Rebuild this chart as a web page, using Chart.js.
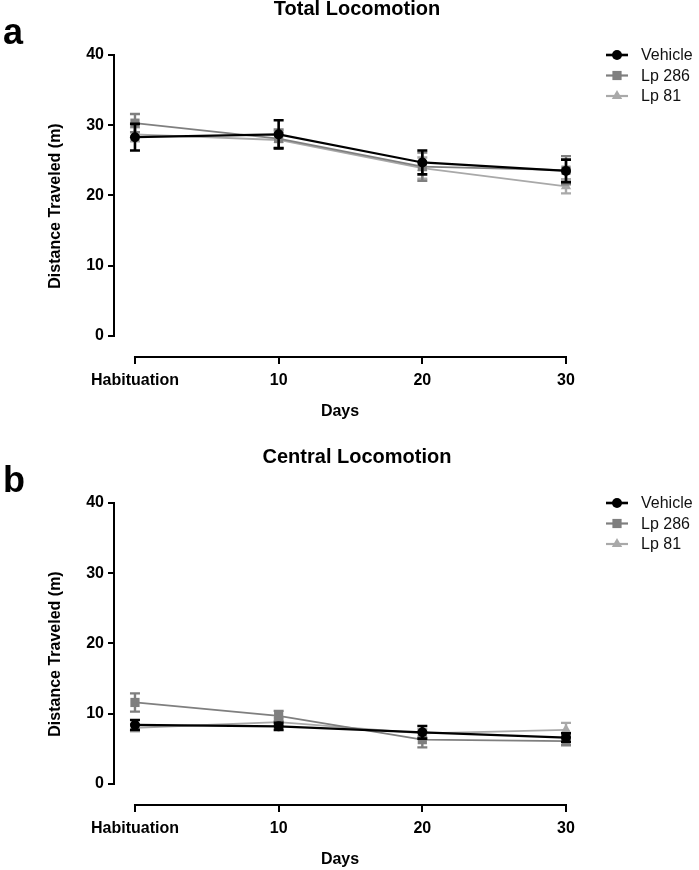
<!DOCTYPE html>
<html><head><meta charset="utf-8">
<script src="https://cdn.jsdelivr.net/npm/chart.js@4.4.1/dist/chart.umd.min.js"></script>
<style>
html,body{margin:0;padding:0;background:#fff;}
body{width:699px;height:870px;overflow:hidden;position:relative;font-family:"Liberation Sans",Arial,sans-serif;}
.panel{position:absolute;left:0;width:699px;}
#pa{top:0;height:448px;}
#pb{top:448px;height:422px;}
.letter{position:absolute;left:3px;font-weight:bold;font-size:36px;line-height:36px;color:#000;}
</style>
</head><body>
<div class="panel" id="pa"><canvas id="ca"></canvas></div>
<div class="panel" id="pb"><canvas id="cb"></canvas></div>
<div class="letter" style="top:14px">a</div>
<div class="letter" style="top:462px">b</div>
<script>
// ---- data ----
const days = [0, 10, 20, 30];
const xTickLabels = ['Habituation', '10', '20', '30'];
const yTicks = [0, 10, 20, 30, 40];
const seriesNames = ['Vehicle', 'Lp 286', 'Lp 81'];

const totalVehicle    = [28.3, 28.7, 24.7, 23.5];
const totalVehicleErr = [1.9, 2.0, 1.7, 1.6];
const totalLp286      = [30.3, 28.1, 24.1, 23.6];
const totalLp286Err   = [1.3, 1.3, 2.0, 2.0];
const totalLp81       = [28.7, 27.9, 23.9, 21.3];
const totalLp81Err    = [1.0, 1.2, 1.5, 1.0];

const centralVehicle    = [8.4, 8.2, 7.35, 6.6];
const centralVehicleErr = [0.7, 0.5, 0.9, 0.6];
const centralLp286      = [11.6, 9.7, 6.3, 6.1];
const centralLp286Err   = [1.3, 0.7, 1.1, 0.6];
const centralLp81       = [8.0, 8.8, 7.2, 7.7];
const centralLp81Err    = [0.5, 0.6, 0.6, 1.0];

// ---- styles ----
const styles = [
  {color:'#000000', point:'circle',   radius:5,   width:2.2, err:2.6},
  {color:'#7f7f7f', point:'rect',     radius:6.5, width:1.8, err:2.4},
  {color:'#a9a9a9', point:'triangle', radius:6,   width:1.8, err:2.4}
];
const FAMILY = '"Liberation Sans", Arial, sans-serif';

function mkDatasets(vals, errs){
  return vals.map((v, k) => ({
    label: seriesNames[k],
    data: days.map((d, i) => ({x: d, y: v[i]})),
    errors: errs[k],
    borderColor: styles[k].color,
    backgroundColor: styles[k].color,
    borderWidth: styles[k].width,
    pointStyle: styles[k].point,
    pointRadius: styles[k].radius,
    pointBorderWidth: 0,
    pointHoverRadius: styles[k].radius,
    errWidth: styles[k].err,
    tension: 0,
    clip: false
  }));
}

const errorBars = {
  id: 'errorBars',
  afterDatasetDraw(chart, args){
    const ds = chart.data.datasets[args.index];
    const ys = chart.scales.y, xs = chart.scales.x;
    const ctx = chart.ctx;
    ctx.save();
    ctx.strokeStyle = ds.borderColor;
    ctx.lineWidth = ds.errWidth;
    ds.data.forEach((p, i) => {
      const e = ds.errors[i];
      const px = xs.getPixelForValue(p.x);
      const top = ys.getPixelForValue(p.y + e);
      const bot = ys.getPixelForValue(p.y - e);
      ctx.beginPath();
      ctx.moveTo(px, top); ctx.lineTo(px, bot);
      ctx.moveTo(px - 5, top); ctx.lineTo(px + 5, top);
      ctx.moveTo(px - 5, bot); ctx.lineTo(px + 5, bot);
      ctx.stroke();
    });
    ctx.restore();
  }
};

const axisLines = {
  id: 'axisLines',
  beforeDatasetsDraw(chart){
    const ctx = chart.ctx, ca = chart.chartArea;
    const xs = chart.scales.x, ys = chart.scales.y;
    ctx.save();
    ctx.strokeStyle = '#000';
    ctx.lineWidth = 2;
    ctx.lineCap = 'square';
    ctx.beginPath();
    ctx.moveTo(ca.left, ys.getPixelForValue(yTicks[0]));
    ctx.lineTo(ca.left, ys.getPixelForValue(yTicks[yTicks.length - 1]));
    ctx.moveTo(xs.getPixelForValue(days[0]), ca.bottom);
    ctx.lineTo(xs.getPixelForValue(days[days.length - 1]), ca.bottom);
    ctx.stroke();
    ctx.restore();
  }
};

const panelTitle = {
  id: 'panelTitle',
  afterDraw(chart, args, opts){
    const ctx = chart.ctx;
    ctx.save();
    ctx.fillStyle = '#000';
    ctx.font = 'bold 20px ' + FAMILY;
    ctx.textAlign = 'center';
    ctx.textBaseline = 'middle';
    ctx.fillText(opts.text, 357, 9);
    ctx.restore();
  }
};

const sideLegend = {
  id: 'sideLegend',
  afterDraw(chart){
    const ctx = chart.ctx, ca = chart.chartArea;
    ctx.save();
    chart.data.datasets.forEach((ds, k) => {
      const y = ca.top + k * 20.5;
      const x0 = 606, x1 = 628;
      ctx.strokeStyle = ds.borderColor;
      ctx.lineWidth = ds.borderWidth + 0.4;
      ctx.beginPath(); ctx.moveTo(x0, y); ctx.lineTo(x1, y); ctx.stroke();
      ctx.fillStyle = ds.backgroundColor;
      Chart.helpers.drawPoint(ctx, {pointStyle: ds.pointStyle, radius: ds.pointRadius, borderWidth: 0, rotation: 0}, (x0 + x1) / 2, y);
      ctx.fillStyle = '#111';
      ctx.font = '16px ' + FAMILY;
      ctx.textBaseline = 'middle';
      ctx.textAlign = 'left';
      ctx.fillText(ds.label, 641, y + 1);
    });
    ctx.restore();
  }
};

function makeChart(id, title, vals, errs, H){
  const font = {family: FAMILY, weight: 'bold', size: 16};
  return new Chart(document.getElementById(id), {
    type: 'line',
    data: {datasets: mkDatasets(vals, errs)},
    plugins: [axisLines, errorBars, sideLegend, panelTitle],
    options: {
      responsive: true,
      maintainAspectRatio: false,
      animation: false,
      layout: {padding: {left: 15, right: 133, top: 55, bottom: 0}},
      plugins: {
        legend: {display: false},
        tooltip: {enabled: false},
        title: {display: false},
        panelTitle: {text: title}
      },
      scales: {
        x: {
          type: 'linear', min: -1.46, max: 30,
          afterBuildTicks: s => { s.ticks = days.map(v => ({value: v})); },
          afterFit: s => { s.height = H - 357; },
          ticks: {
            color: '#000', font: font, padding: 7, maxRotation: 0, autoSkip: false,
            callback: v => xTickLabels[days.indexOf(v)]
          },
          grid: {display: true, drawOnChartArea: false, drawTicks: true, tickLength: 7, color: '#000', lineWidth: 2},
          border: {display: false},
          title: {display: true, text: 'Days', color: '#000', font: font, padding: {top: 0, bottom: H - 421}}
        },
        y: {
          type: 'linear', min: -3, max: 40,
          afterBuildTicks: s => { s.ticks = yTicks.map(v => ({value: v})); },
          afterFit: s => { s.width = 99; },
          ticks: {color: '#000', font: font, padding: 4},
          grid: {display: true, drawOnChartArea: false, drawTicks: true, tickLength: 6, color: '#000', lineWidth: 2},
          border: {display: false},
          title: {display: true, text: 'Distance Traveled (m)', color: '#000', font: font, padding: {top: 31, bottom: 0}}
        }
      }
    }
  });
}

makeChart('ca', 'Total Locomotion',
  [totalVehicle, totalLp286, totalLp81],
  [totalVehicleErr, totalLp286Err, totalLp81Err], 448);
makeChart('cb', 'Central Locomotion',
  [centralVehicle, centralLp286, centralLp81],
  [centralVehicleErr, centralLp286Err, centralLp81Err], 422);
</script>
</body></html>
